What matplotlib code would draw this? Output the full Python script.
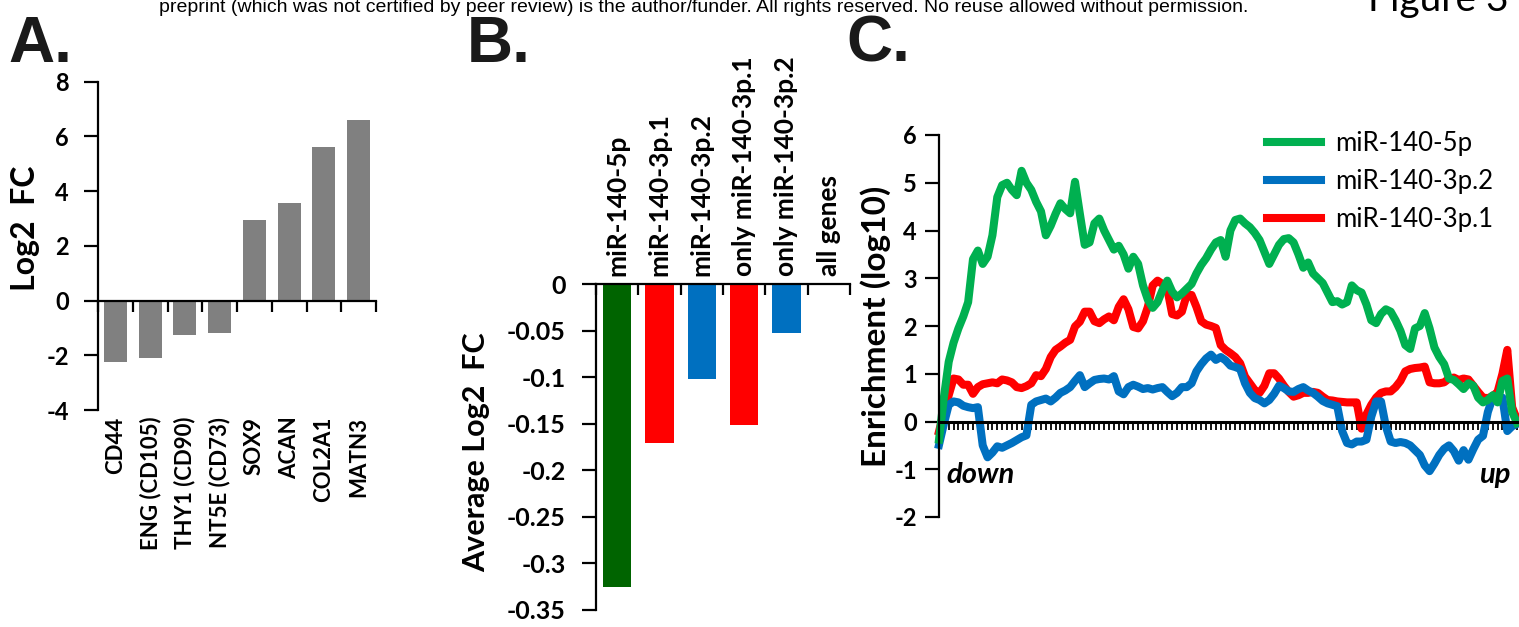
import numpy as np
import matplotlib.pyplot as plt
from matplotlib.lines import Line2D

plt.rcParams['font.family'] = ['Lato', 'DejaVu Sans']
plt.rcParams['font.weight'] = 'bold'
plt.rcParams['axes.labelweight'] = 'bold'
plt.rcParams['axes.unicode_minus'] = False
plt.rcParams['axes.linewidth'] = 1.6

# panel A: marker genes
genes = ['CD44', 'ENG (CD105)', 'THY1 (CD90)', 'NT5E (CD73)', 'SOX9', 'ACAN', 'COL2A1', 'MATN3']
log2fc = [-2.26, -2.1, -1.25, -1.2, 2.96, 3.58, 5.63, 6.6]

# panel B: average log2 FC of target groups
groups = ['miR-140-5p', 'miR-140-3p.1', 'miR-140-3p.2', 'only miR-140-3p.1', 'only miR-140-3p.2', 'all genes']
avg_fc = [-0.326, -0.171, -0.102, -0.151, -0.052, 0.0]
group_colors = ['#006400', '#FF0000', '#0070C0', '#FF0000', '#0070C0', '#808080']
b_ticks = [-0.35, -0.3, -0.25, -0.2, -0.15, -0.1, -0.05, 0]
b_ticklabels = ['-0.35', '-0.3', '-0.25', '-0.2', '-0.15', '-0.1', '-0.05', '0']

# panel C: enrichment along ranked genes (down -> up)
green = [-0.38, 0.5, 1.25, 1.65, 1.95, 2.2, 2.5, 3.4, 3.58, 3.3,
         3.45, 3.9, 4.7, 4.95, 5.0, 4.85, 4.74, 5.25, 5.0, 4.85,
         4.6, 4.4, 3.9, 4.1, 4.35, 4.57, 4.45, 4.36, 5.02, 4.35,
         3.7, 3.75, 4.15, 4.25, 4.0, 3.8, 3.6, 3.68, 3.5, 3.2,
         3.45, 3.3, 2.85, 2.55, 2.38, 2.5, 2.75, 2.95, 2.72, 2.6,
         2.68, 2.78, 2.88, 3.1, 3.28, 3.42, 3.6, 3.75, 3.8, 3.45,
         4.0, 4.22, 4.25, 4.15, 4.07, 3.95, 3.8, 3.55, 3.3, 3.5,
         3.7, 3.82, 3.84, 3.75, 3.5, 3.22, 3.33, 3.1, 3.0, 2.9,
         2.7, 2.5, 2.52, 2.45, 2.5, 2.85, 2.75, 2.7, 2.45, 2.12,
         2.06, 2.25, 2.35, 2.3, 2.12, 1.9, 1.6, 1.52, 1.95, 2.0,
         2.27, 1.95, 1.55, 1.35, 1.2, 0.9, 0.87, 0.78, 0.68, 0.8,
         0.75, 0.5, 0.4, 0.45, 0.55, 0.4, 0.85, 0.9, 0.2, -0.03]
blue = [-0.49, -0.05, 0.35, 0.42, 0.4, 0.33, 0.3, 0.28, 0.3, -0.5,
        -0.75, -0.65, -0.52, -0.55, -0.5, -0.45, -0.39, -0.33, -0.29, 0.35,
        0.42, 0.45, 0.48, 0.42, 0.5, 0.6, 0.65, 0.72, 0.85, 0.97,
        0.72, 0.8, 0.87, 0.89, 0.9, 0.88, 0.95, 0.63, 0.57, 0.72,
        0.77, 0.73, 0.68, 0.7, 0.67, 0.7, 0.72, 0.62, 0.53, 0.6,
        0.72, 0.72, 0.8, 1.05, 1.2, 1.32, 1.4, 1.29, 1.35, 1.28,
        1.17, 1.14, 1.1, 0.8, 0.6, 0.49, 0.45, 0.38, 0.45, 0.58,
        0.75, 0.7, 0.63, 0.62, 0.68, 0.72, 0.65, 0.6, 0.52, 0.43,
        0.38, 0.35, 0.32, -0.2, -0.45, -0.48, -0.42, -0.42, -0.38, 0.1,
        0.42, 0.42, -0.1, -0.42, -0.45, -0.43, -0.45, -0.5, -0.6, -0.7,
        -0.92, -1.04, -0.88, -0.7, -0.57, -0.5, -0.62, -0.82, -0.6, -0.8,
        -0.58, -0.38, -0.3, 0.2, 0.5, 0.45, 0.5, -0.2, -0.1, -0.05]
red = [-0.21, 0.2, 0.55, 0.9, 0.88, 0.77, 0.77, 0.58, 0.72, 0.78,
       0.8, 0.82, 0.8, 0.88, 0.86, 0.82, 0.72, 0.7, 0.74, 0.8,
       0.97, 0.95, 1.1, 1.35, 1.5, 1.57, 1.65, 1.71, 1.99, 2.09,
       2.3, 2.3, 2.1, 2.06, 2.14, 2.2, 2.12, 2.4, 2.56, 2.35,
       1.98, 1.95, 2.1, 2.4, 2.85, 2.95, 2.88, 2.78, 2.25, 2.22,
       2.3, 2.65, 2.65, 2.4, 2.1, 2.03, 2.0, 1.96, 1.6, 1.5,
       1.43, 1.35, 1.22, 0.94, 0.8, 0.66, 0.6, 0.75, 1.01, 1.01,
       0.9, 0.75, 0.62, 0.52, 0.55, 0.6, 0.6, 0.62, 0.6, 0.52,
       0.45, 0.44, 0.42, 0.41, 0.4, 0.4, 0.4, -0.15, 0.15, 0.35,
       0.5, 0.6, 0.63, 0.63, 0.72, 0.85, 1.05, 1.1, 1.12, 1.13,
       1.15, 0.82, 0.8, 0.8, 0.82, 0.9, 0.92, 0.87, 0.9, 0.88,
       0.75, 0.62, 0.5, 0.49, 0.53, 0.62, 1.0, 1.5, 0.3, 0.04]

W, H = 1519, 627
fig = plt.figure(figsize=(W / 100, H / 100), dpi=100)


def box(l, r, t, b):
    # pixel box -> figure fraction rect
    return [l / W, 1 - b / H, (r - l) / W, (b - t) / H]


def bold_ticks(ax):
    for t in ax.get_xticklabels() + ax.get_yticklabels():
        t.set_fontweight('bold')


# ---------------- A ----------------
axA = fig.add_axes(box(98, 376, 81.7, 410))
xa = np.arange(len(genes))
axA.bar(xa, log2fc, width=0.66, color='#808080')
axA.set_xlim(-0.5, len(genes) - 0.5)
axA.set_ylim(-4, 8)
axA.spines[['top', 'right']].set_visible(False)
axA.spines['bottom'].set_position(('data', 0))
axA.set_yticks(range(-4, 9, 2))
axA.set_xticks([])
axA.set_xticks(np.arange(-0.5, len(genes), 1), minor=True)
axA.tick_params(axis='x', which='minor', direction='out', length=8, width=1.6)
axA.tick_params(axis='y', direction='out', length=10, width=1.6, labelsize=17, pad=11)
bold_ticks(axA)
for i, g in enumerate(genes):
    axA.text(i, -0.02, g, transform=axA.get_xaxis_transform(), rotation=90,
             ha='center', va='top', fontsize=16, fontweight='bold')
fig.text(25 / W, 1 - 228 / H, 'Log2  FC', rotation=90, ha='center', va='center',
         fontsize=23, fontweight='bold')

# ---------------- B ----------------
axB = fig.add_axes(box(596, 850, 284.4, 609.5))
xb = np.arange(len(groups))
axB.bar(xb, avg_fc, width=0.67, color=group_colors)
axB.set_xlim(-0.5, len(groups) - 0.5)
axB.set_ylim(-0.35, 0)
axB.spines[['bottom', 'right']].set_visible(False)
axB.xaxis.tick_top()
axB.set_xticks(xb)
axB.set_xticklabels(groups, rotation=90, fontsize=19)
axB.tick_params(axis='x', which='major', length=0, pad=6)
axB.set_xticks(np.arange(-0.5, len(groups), 1), minor=True)
axB.tick_params(axis='x', which='minor', direction='in', length=8, width=1.6)
axB.set_yticks(b_ticks)
axB.set_yticklabels(b_ticklabels)
axB.tick_params(axis='y', direction='out', length=10, width=1.6, labelsize=18, pad=12)
bold_ticks(axB)
fig.text(476 / W, 1 - 452.5 / H, 'Average Log2  FC', rotation=90, ha='center', va='center',
         fontsize=22, fontweight='bold')

# ---------------- C ----------------
axC = fig.add_axes(box(939, 1517, 135, 517))
xc = np.arange(len(green))
lr, = axC.plot(xc, red, color='#FF0000', lw=5.8, solid_joinstyle='round', clip_on=False)
lb, = axC.plot(xc, blue, color='#0070C0', lw=5.8, solid_joinstyle='round', clip_on=False)
lg, = axC.plot(xc, green, color='#00B050', lw=5.8, solid_joinstyle='round', clip_on=False)
axC.set_xlim(0, len(green) - 1)
axC.set_ylim(-2, 6)
axC.spines[['top', 'right']].set_visible(False)
axC.spines['bottom'].set_position(('data', 0))
axC.spines['bottom'].set_linewidth(2.2)
axC.set_xticks([])
axC.set_xticks(xc, minor=True)
axC.tick_params(axis='x', which='minor', direction='out', length=6, width=1.3)
axC.set_yticks(range(-2, 7))
axC.tick_params(axis='y', direction='out', length=10, width=1.6, labelsize=17, pad=6)
bold_ticks(axC)
axC.set_ylabel('Enrichment (log10)', fontsize=24, fontweight='bold', labelpad=2)
axC.text(1.6, -1.28, 'down', style='italic', fontweight='bold', fontsize=21, ha='left', va='baseline')
axC.text(117.6, -1.28, 'up', style='italic', fontweight='bold', fontsize=21, ha='right', va='baseline')
axC.legend([lg, lb, lr], ['miR-140-5p', 'miR-140-3p.2', 'miR-140-3p.1'],
           loc='upper left', bbox_to_anchor=(1267 / W, 1 - 131 / H),
           bbox_transform=fig.transFigure, frameon=False, borderpad=0,
           borderaxespad=0, handlelength=2.1, handletextpad=0.55,
           labelspacing=0.5, prop={'family': 'Lato', 'weight': 'normal', 'size': 18.5})

# panel letters and page header
for lab, xl in [('A.', 8), ('B.', 467), ('C.', 846)]:
    fig.text(xl / W, 1 - 62 / H, lab, family='Liberation Sans', weight='bold',
             fontsize=46, ha='left', va='baseline', color='#1a1a1a')
fig.text(703.5 / W, 1 - 12 / H,
         'preprint (which was not certified by peer review) is the author/funder. '
         'All rights reserved. No reuse allowed without permission.',
         family='Liberation Sans', weight='normal', fontsize=14, ha='center', va='baseline')
fig.text(1368 / W, 1 - 11 / H, 'Figure 3', family='Lato', weight='normal',
         fontsize=28, ha='left', va='baseline')

fig.savefig('out.png', dpi=100)
